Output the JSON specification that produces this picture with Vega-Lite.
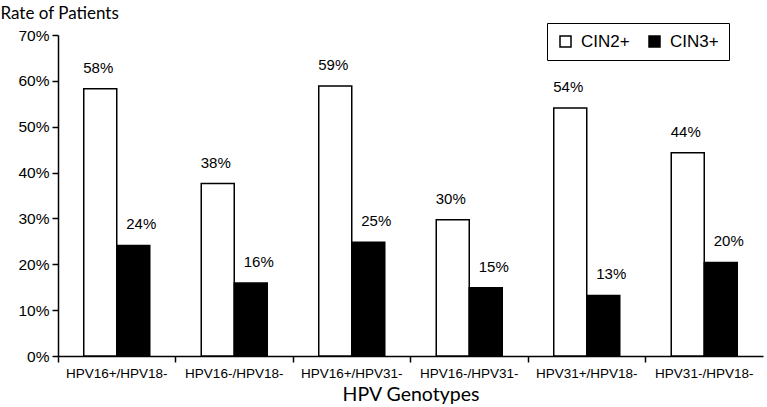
{
  "$schema": "https://vega.github.io/schema/vega-lite/v6.json",
  "autosize": "none",
  "width": 705,
  "height": 321,
  "padding": {"left": 58, "top": 35, "right": 4, "bottom": 51},
  "background": "white",
  "data": {
    "values": [
      {"genotype": "HPV16+/HPV18-", "grade": "CIN2+", "rate": 0.583},
      {"genotype": "HPV16+/HPV18-", "grade": "CIN3+", "rate": 0.241},
      {"genotype": "HPV16-/HPV18-", "grade": "CIN2+", "rate": 0.376},
      {"genotype": "HPV16-/HPV18-", "grade": "CIN3+", "rate": 0.159},
      {"genotype": "HPV16+/HPV31-", "grade": "CIN2+", "rate": 0.589},
      {"genotype": "HPV16+/HPV31-", "grade": "CIN3+", "rate": 0.248},
      {"genotype": "HPV16-/HPV31-", "grade": "CIN2+", "rate": 0.297},
      {"genotype": "HPV16-/HPV31-", "grade": "CIN3+", "rate": 0.149},
      {"genotype": "HPV31+/HPV18-", "grade": "CIN2+", "rate": 0.541},
      {"genotype": "HPV31+/HPV18-", "grade": "CIN3+", "rate": 0.132},
      {"genotype": "HPV31-/HPV18-", "grade": "CIN2+", "rate": 0.443},
      {"genotype": "HPV31-/HPV18-", "grade": "CIN3+", "rate": 0.204}
    ]
  },
  "encoding": {
    "x": {
      "field": "genotype", "type": "nominal", "sort": null,
      "scale": {"paddingInner": 0, "paddingOuter": 0},
      "axis": {
        "title": "HPV Genotypes", "titleFont": "Lato", "titleFontSize": 19.5, "titleFontWeight": "normal",
        "titleColor": "black", "titlePadding": 6,
        "labelAngle": 0, "labelFont": "Liberation Sans", "labelFontSize": 13.5, "labelColor": "black",
        "labelPadding": 4, "bandPosition": 0, "tickSize": 6, "tickColor": "black", "tickWidth": 1.5,
        "domainColor": "black", "domainWidth": 1.5, "grid": false
      }
    },
    "xOffset": {"field": "grade", "type": "nominal", "scale": {"paddingInner": 0, "paddingOuter": 0.78}},
    "y": {
      "field": "rate", "type": "quantitative",
      "scale": {"domain": [0, 0.7], "nice": false},
      "axis": {
        "title": "Rate of Patients", "titleAngle": 0, "titleX": -58, "titleY": -17,
        "titleAlign": "left", "titleBaseline": "alphabetic", "titleFont": "Lato", "titleFontSize": 17,
        "titleFontWeight": "normal", "titleColor": "black",
        "format": ".0%", "values": [0, 0.1, 0.2, 0.3, 0.4, 0.5, 0.6, 0.7],
        "labelFont": "Liberation Sans", "labelFontSize": 15.5, "labelColor": "black", "labelPadding": 3,
        "tickSize": 6, "tickColor": "black", "tickWidth": 1.5,
        "domainColor": "black", "domainWidth": 1.5, "grid": false
      }
    }
  },
  "layer": [
    {
      "mark": {"type": "bar", "stroke": "black", "strokeWidth": 1.5},
      "encoding": {
        "fill": {
          "field": "grade", "type": "nominal",
          "scale": {"domain": ["CIN2+", "CIN3+"], "range": ["white", "black"]},
          "legend": {
            "title": null, "orient": "none", "legendX": 489, "legendY": -12, "direction": "horizontal",
            "strokeColor": "black", "padding": 10, "symbolType": "square", "symbolSize": 121,
            "symbolStrokeColor": "black", "symbolStrokeWidth": 1.5,
            "labelFont": "Liberation Sans", "labelFontSize": 17, "labelColor": "black",
            "columnPadding": 16, "labelOffset": 7
          }
        }
      }
    },
    {
      "transform": [{"filter": "datum.grade == 'CIN2+'"}],
      "mark": {"type": "text", "baseline": "bottom", "dy": -13, "dx": -2, "font": "Liberation Sans", "fontSize": 15, "color": "black"},
      "encoding": {"text": {"field": "rate", "type": "quantitative", "format": ".0%"}}
    },
    {
      "transform": [{"filter": "datum.grade == 'CIN3+'"}],
      "mark": {"type": "text", "baseline": "bottom", "dy": -13, "dx": 8, "font": "Liberation Sans", "fontSize": 15, "color": "black"},
      "encoding": {"text": {"field": "rate", "type": "quantitative", "format": ".0%"}}
    }
  ],
  "config": {"view": {"stroke": null}}
}
